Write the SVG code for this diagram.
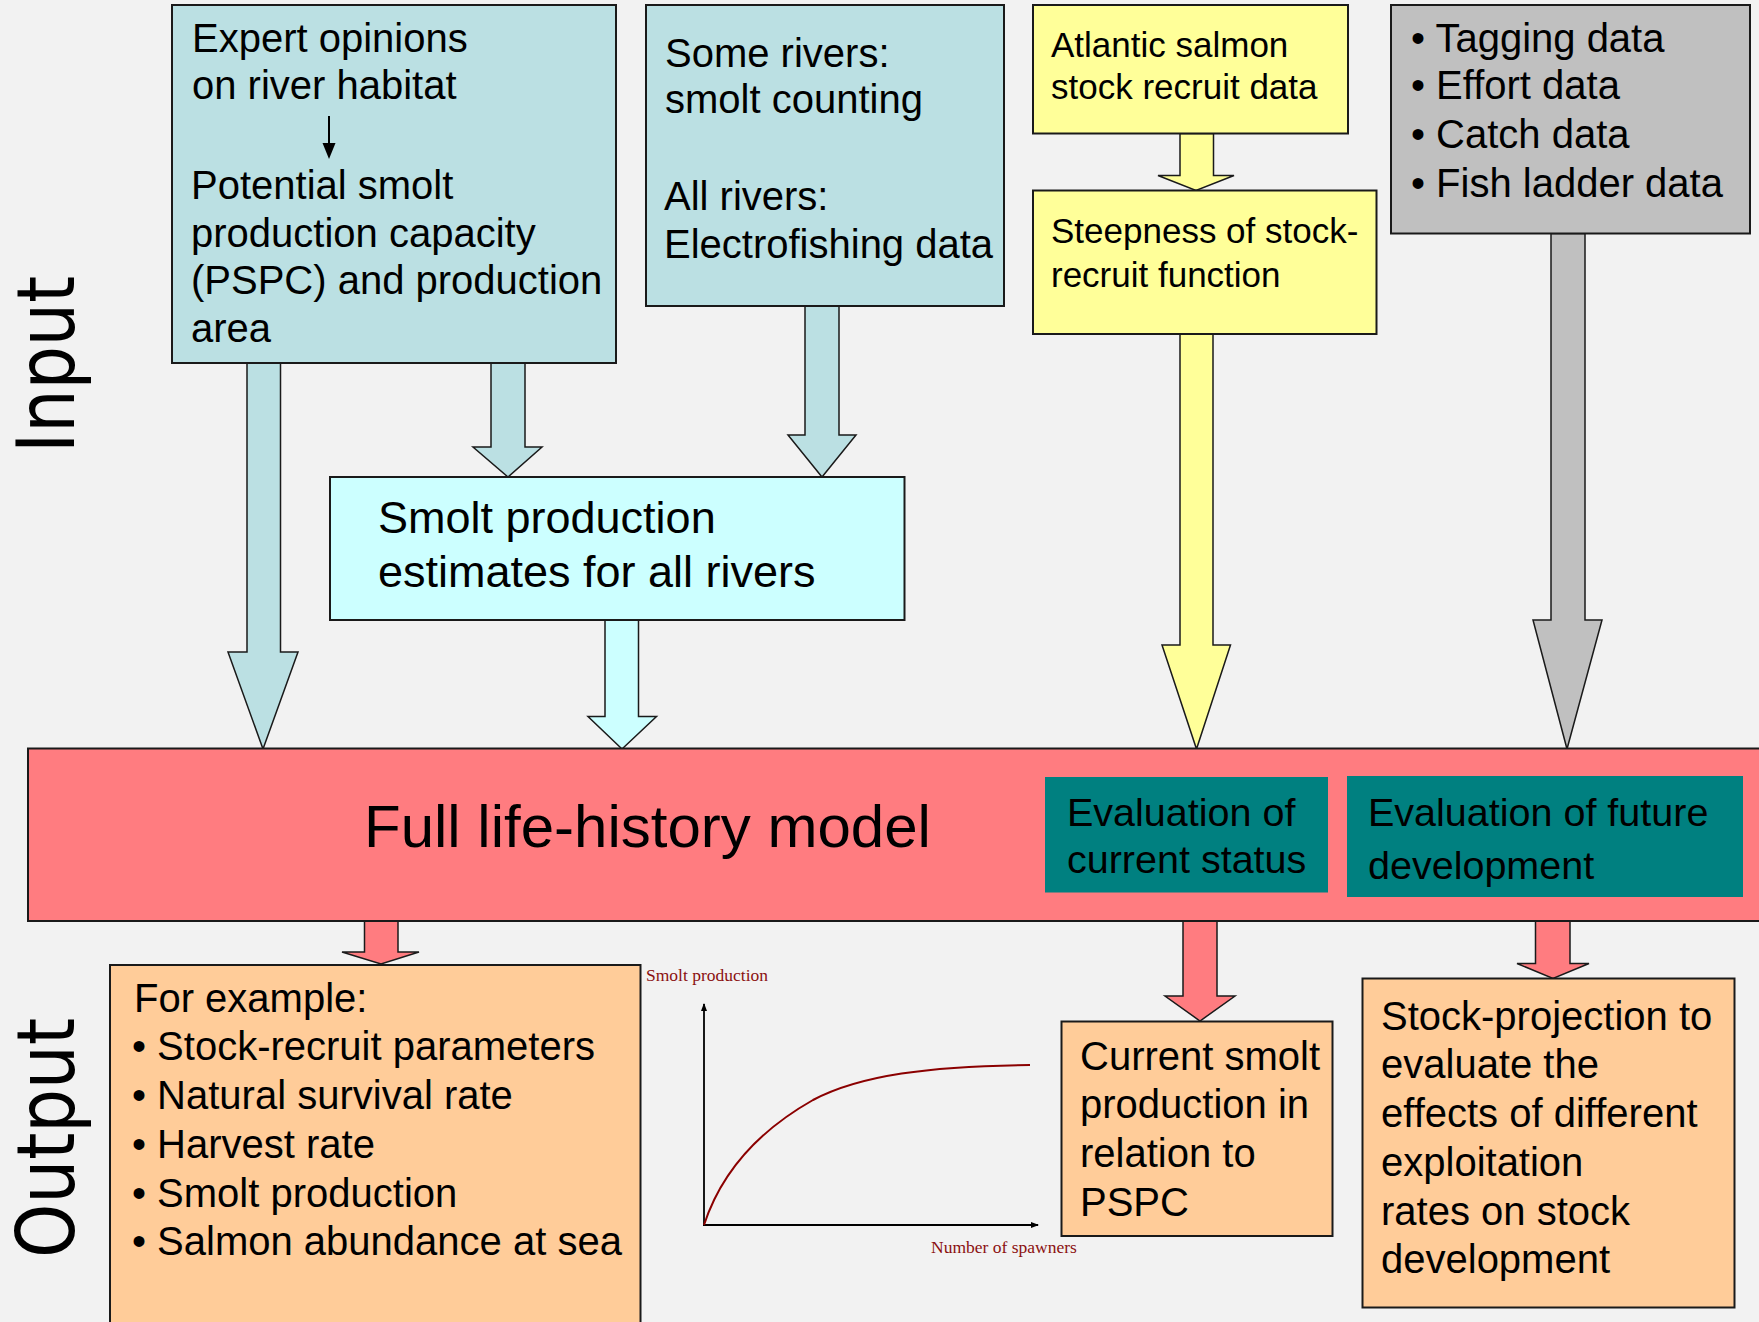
<svg xmlns="http://www.w3.org/2000/svg" width="1759" height="1322" viewBox="0 0 1759 1322">
  <defs>
    <style>
      .box { stroke: #1a1a1a; stroke-width: 2; }
      .arr { stroke: #1a1a1a; stroke-width: 1.5; stroke-linejoin: miter; }
      .t { font-family: "Liberation Sans", Arial, sans-serif; fill: #000; }
      .t40 { font-size: 40px; }
      .t35 { font-size: 35px; }
      .side { font-family: "DejaVu Sans", "Liberation Sans", sans-serif; font-size: 80px; fill: #000; }
      .serif { font-family: "Liberation Serif", "Times New Roman", serif; font-size: 17.5px; fill: #8B1010; }
      .blue { fill: #BBE0E3; }
      .cyan { fill: #CCFFFF; }
      .yellow { fill: #FFFF99; }
      .gray { fill: #C0C0C0; }
      .red { fill: #FF7C80; }
      .orange { fill: #FFCC99; }
      .teal { fill: #008080; }
    </style>
    <marker id="axhead" markerWidth="8" markerHeight="8" refX="7" refY="4" orient="auto" markerUnits="userSpaceOnUse">
      <path d="M0,1 L8,4 L0,7 Z" fill="#000"/>
    </marker>
  </defs>

  <rect width="1759" height="1322" fill="#F2F2F2"/>

  <!-- side labels -->
  <g id="label-input">
    <text class="side" transform="translate(74,453) rotate(-90)" textLength="177" lengthAdjust="spacingAndGlyphs">Input</text>
  </g>
  <g id="label-output">
    <text class="side" transform="translate(74,1258) rotate(-90)" textLength="240" lengthAdjust="spacingAndGlyphs">Output</text>
  </g>

  <!-- connectors -->
  <g id="connectors">
    <polygon class="arr blue" points="247,363 247,652 228,652 263,749 298,652 280.5,652 280.5,363"/>
    <polygon class="arr blue" points="491,363 491,447 473,447 508,477 542,447 525,447 525,363"/>
    <polygon class="arr blue" points="805,306 805,435 788,435 822,477 856,435 839,435 839,306"/>
    <polygon class="arr cyan" points="605,620 605,716.5 588,716.5 622,749 656.5,716.5 638.5,716.5 638.5,620"/>
    <polygon class="arr yellow" points="1180,133.5 1180,175.5 1158,175.5 1196,190.5 1234,175.5 1213.5,175.5 1213.5,133.5"/>
    <polygon class="arr yellow" points="1180,334 1180,645 1162,645 1196.5,749 1230.5,645 1213,645 1213,334"/>
    <polygon class="arr gray" points="1551,233.5 1551,620 1533,620 1567,749 1602,620 1585,620 1585,233.5"/>
    <polygon class="arr red" points="364.5,921 364.5,952 342,952 381,964 419,952 398,952 398,921"/>
    <polygon class="arr red" points="1183,921 1183,996 1165,996 1200,1021 1235,996 1217,996 1217,921"/>
    <polygon class="arr red" points="1535.5,921 1535.5,963.5 1517,963.5 1553,978.5 1589,963.5 1570,963.5 1570,921"/>
  </g>

  <!-- input nodes -->
  <g id="expert-opinions">
    <rect class="box blue" x="172" y="5" width="444" height="358"/>
    <text class="t t40" x="192" y="52">Expert opinions</text>
    <text class="t t40" x="192" y="99">on river habitat</text>
    <line x1="329" y1="116" x2="329" y2="145" stroke="#000" stroke-width="2"/>
    <polygon points="322.5,143 335.5,143 329,159" fill="#000"/>
    <text class="t t40" x="191" y="199">Potential smolt</text>
    <text class="t t40" x="191" y="246.5">production capacity</text>
    <text class="t t40" x="191" y="294">(PSPC) and production</text>
    <text class="t t40" x="191" y="342">area</text>
  </g>

  <g id="smolt-counting">
    <rect class="box blue" x="646" y="5" width="358" height="301"/>
    <text class="t t40" x="665" y="67">Some rivers:</text>
    <text class="t t40" x="665" y="113">smolt counting</text>
    <text class="t t40" x="664" y="210">All rivers:</text>
    <text class="t t40" x="664" y="258">Electrofishing data</text>
  </g>

  <g id="stock-recruit-data">
    <rect class="box yellow" x="1033" y="5" width="315" height="128.5"/>
    <text class="t t35" x="1051" y="57">Atlantic salmon</text>
    <text class="t t35" x="1051" y="99">stock recruit data</text>
  </g>

  <g id="steepness">
    <rect class="box yellow" x="1033" y="190.5" width="343.5" height="143.5"/>
    <text class="t t35" x="1051" y="242.5">Steepness of stock-</text>
    <text class="t t35" x="1051" y="287">recruit function</text>
  </g>

  <g id="other-data">
    <rect class="box gray" x="1391" y="5" width="359" height="228.5"/>
    <text class="t t40" x="1411" y="52">• Tagging data</text>
    <text class="t t40" x="1411" y="99">• Effort data</text>
    <text class="t t40" x="1411" y="148">• Catch data</text>
    <text class="t t40" x="1411" y="196.5">• Fish ladder data</text>
  </g>

  <g id="smolt-estimates">
    <rect class="box cyan" x="330" y="477" width="574.5" height="143"/>
    <text class="t" font-size="45" x="378" y="533">Smolt production</text>
    <text class="t" font-size="45" x="378" y="587">estimates for all rivers</text>
  </g>

  <!-- model -->
  <g id="life-history-model">
    <rect class="box red" x="28" y="748.5" width="1760" height="172.5"/>
    <text class="t" font-size="60" x="364" y="847">Full life-history model</text>
  </g>
  <g id="eval-current">
    <rect class="teal" x="1045" y="777" width="283" height="115.5"/>
    <text class="t" font-size="39.5" x="1067" y="826">Evaluation of</text>
    <text class="t" font-size="39.5" x="1067" y="873">current status</text>
  </g>
  <g id="eval-future">
    <rect class="teal" x="1347" y="776" width="396" height="121"/>
    <text class="t" font-size="39.5" x="1368" y="826">Evaluation of future</text>
    <text class="t" font-size="39.5" x="1368" y="879">development</text>
  </g>

  <!-- outputs -->
  <g id="output-examples">
    <rect class="box orange" x="110" y="965" width="530.5" height="372"/>
    <text class="t t40" x="134" y="1012">For example:</text>
    <text class="t t40" x="132" y="1060">• Stock-recruit parameters</text>
    <text class="t t40" x="132" y="1109">• Natural survival rate</text>
    <text class="t t40" x="132" y="1158">• Harvest rate</text>
    <text class="t t40" x="132" y="1207">• Smolt production</text>
    <text class="t t40" x="132" y="1255">• Salmon abundance at sea</text>
  </g>

  <g id="stock-recruit-graph">
    <text class="serif" x="646" y="981">Smolt production</text>
    <line x1="704" y1="1225" x2="704" y2="1004" stroke="#000" stroke-width="1.8" marker-end="url(#axhead)"/>
    <line x1="703" y1="1225" x2="1038" y2="1225" stroke="#000" stroke-width="1.8" marker-end="url(#axhead)"/>
    <path d="M704,1225 C722,1170 760,1130 813,1100 C860,1075 930,1066 1030,1065" fill="none" stroke="#8B0000" stroke-width="2"/>
    <text class="serif" x="931" y="1253">Number of spawners</text>
  </g>

  <g id="current-smolt">
    <rect class="box orange" x="1061.5" y="1021.5" width="271" height="214.5"/>
    <text class="t t40" x="1080" y="1070">Current smolt</text>
    <text class="t t40" x="1080" y="1118">production in</text>
    <text class="t t40" x="1080" y="1167">relation to</text>
    <text class="t t40" x="1080" y="1216">PSPC</text>
  </g>

  <g id="stock-projection">
    <rect class="box orange" x="1362.5" y="978.5" width="372" height="329"/>
    <text class="t t40" x="1381" y="1030">Stock-projection to</text>
    <text class="t t40" x="1381" y="1078">evaluate the</text>
    <text class="t t40" x="1381" y="1127">effects of different</text>
    <text class="t t40" x="1381" y="1176">exploitation</text>
    <text class="t t40" x="1381" y="1225">rates on stock</text>
    <text class="t t40" x="1381" y="1273">development</text>
  </g>
</svg>
